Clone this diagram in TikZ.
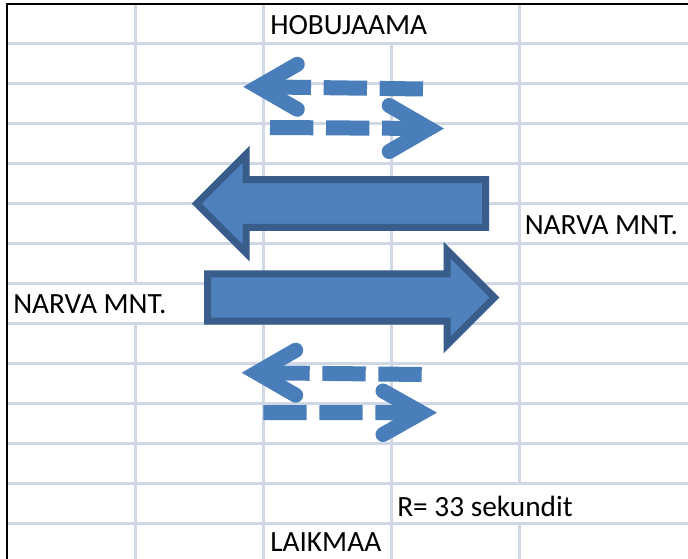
\documentclass[tikz,border=0pt]{standalone}
\usepackage{fontspec}
\setmainfont{Carlito}
\definecolor{gridc}{RGB}{208,215,229}
\definecolor{fillc}{RGB}{79,129,189}
\definecolor{edgec}{RGB}{56,93,138}
\definecolor{dashc}{RGB}{74,126,187}
\begin{document}
\begin{tikzpicture}[x=0.75pt,y=-0.75pt,
  gridline/.style={draw=gridc, line width=2.25pt},
  bigarrow/.style={fill=fillc, draw=edgec, line width=5.25pt, line join=miter, miter limit=10},
  dashshaft/.style={draw=dashc, line width=11.25pt, dash pattern=on 32.5pt off 9.5pt},
  chevron/.style={draw=dashc, line width=11.25pt, line cap=round, line join=miter, miter limit=10},
  lbl/.style={anchor=base west, inner sep=0pt, text depth=0pt, font=\fontsize{22}{26}\selectfont}]
\useasboundingbox (0,0) rectangle (688,559);
\fill[white] (0,0) rectangle (688,559);
% horizontal grid lines
\foreach \k in {0,...,12}
  \draw[gridline] (8,{43.5+40*\k}) -- (688,{43.5+40*\k});
% vertical grid lines (gaps where cell text overflows)
\draw[gridline] (135,5) -- (135,283.5);
\draw[gridline] (135,323.5) -- (135,559);
\draw[gridline] (263,5) -- (263,559);
\draw[gridline] (391,43.5) -- (391,559);
\draw[gridline] (519,5) -- (519,483.5);
\draw[gridline] (519,523.5) -- (519,559);
% sheet border
\draw[black, line width=1.5pt] (7,559) -- (7,4.2) -- (688,4.2);
% big arrows
\draw[bigarrow] (485.5,179.7) -- (246,179.7) -- (246,154.3) -- (196.7,203.6)
  -- (246,252.9) -- (246,227.5) -- (485.5,227.5) -- cycle;
\draw[bigarrow] (207.5,274) -- (447,274) -- (447,250) -- (494.5,297.5)
  -- (447,345) -- (447,321) -- (207.5,321) -- cycle;
% dashed arrows (upper pair)
\draw[dashshaft] (423,89) -- (258.3,86.8);
\draw[chevron] (297.3,64.3) -- (258.3,86.8) -- (297.3,109.3);
\draw[dashshaft] (270,127.5) -- (429,128.5);
\draw[chevron] (389.2,105.5) -- (429,128.5) -- (389.2,151.5);
% dashed arrows (lower pair)
\draw[dashshaft] (421.7,374.5) -- (256.7,372.7);
\draw[chevron] (295.7,350.2) -- (256.7,372.7) -- (295.7,395.2);
\draw[dashshaft] (263.3,412.5) -- (421.7,412.7);
\draw[chevron] (383,391) -- (421.7,412.7) -- (383,434.5);
% labels
\node[lbl] (hobu) at (270,34.3) {HOBUJAAMA};
\node[lbl] (narvaR) at (524.5,235) {NARVA MNT.};
\node[lbl] (narvaL) at (13,313.3) {NARVA MNT.};
\node[lbl] (rtime) at (397,516) {R= 33 sekundit};
\node[lbl] (laik) at (270,551.5) {LAIKMAA};
\end{tikzpicture}
\end{document}
